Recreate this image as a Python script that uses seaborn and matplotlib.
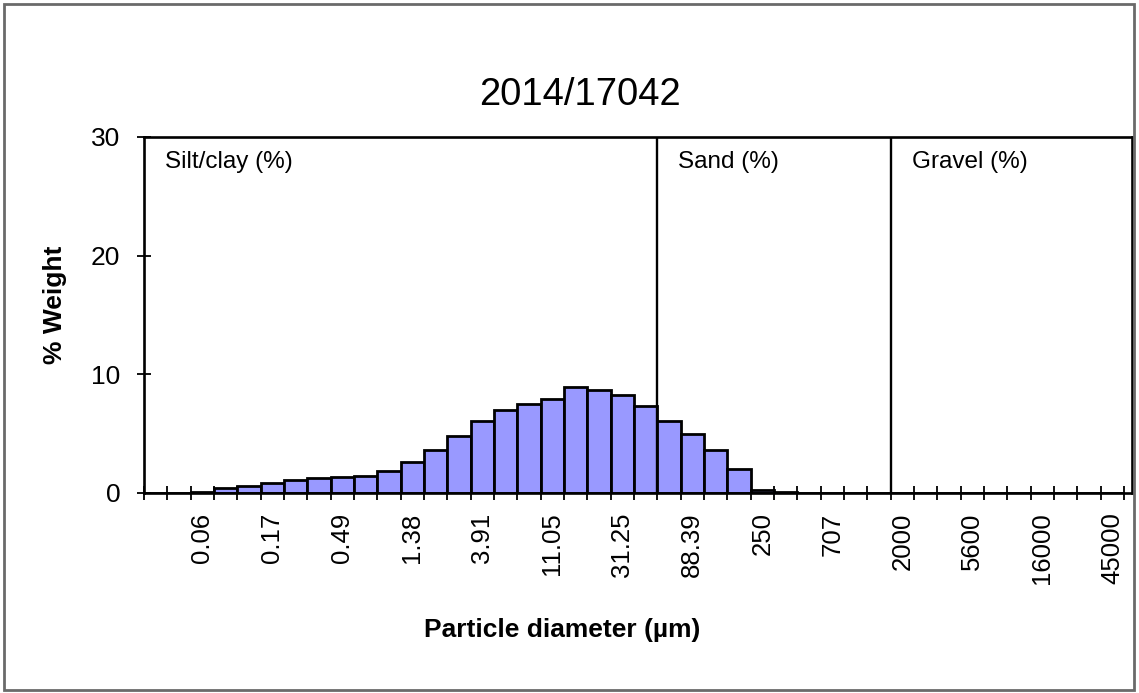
import matplotlib
matplotlib.use("Agg")
import matplotlib.pyplot as plt
from matplotlib.patches import Rectangle
import seaborn as sns
import pandas as pd
import numpy as np

# Bin labels (particle diameter, µm) - sqrt(2) classes
sizes = ["0.03", "0.04", "0.06", "0.09", "0.12", "0.17", "0.24", "0.35", "0.49", "0.69",
         "0.98", "1.38", "1.95", "2.76", "3.91", "5.52", "7.81", "11.05", "15.63", "22.1",
         "31.25", "44.19", "62.5", "88.39", "125", "176.78", "250", "353.55", "500", "707",
         "1000", "1414", "2000", "2800", "4000", "5600", "8000", "11300", "16000", "22600",
         "32000", "45000"]
# % weight per bin
weights = [0.0, 0.0, 0.12, 0.4, 0.55, 0.84, 1.06, 1.26, 1.31, 1.4,
           1.82, 2.58, 3.6, 4.8, 6.1, 6.96, 7.52, 7.92, 8.93, 8.64,
           8.26, 7.36, 6.1, 4.96, 3.65, 2.05, 0.22, 0.06, 0.04, 0.03,
           0.03, 0.03, 0.0, 0.0, 0.0, 0.0, 0.0, 0.0, 0.0, 0.0,
           0.0, 0.0]
shown_labels = ["0.06", "0.17", "0.49", "1.38", "3.91", "11.05", "31.25", "88.39",
                "250", "707", "2000", "5600", "16000", "45000"]
class_names = ["Silt/clay (%)", "Sand (%)", "Gravel (%)"]
class_bounds = ["62.5", "2000"]  # first bin of sand, first bin of gravel
title = "2014/17042"

sns.set_theme(style="white")
plt.rcParams["font.family"] = ["Liberation Sans", "DejaVu Sans"]
plt.rcParams["text.color"] = "black"
plt.rcParams["axes.labelcolor"] = "black"
plt.rcParams["xtick.color"] = "black"
plt.rcParams["ytick.color"] = "black"

fig = plt.figure(figsize=(11.39, 6.93), dpi=100)
ax = fig.add_axes([144 / 1139, 1 - 493 / 693, (1132 - 144) / 1139, (493 - 137) / 693])

df = pd.DataFrame({"size": sizes, "weight": weights})
sns.barplot(data=df, x="size", y="weight", order=sizes, color="#9999FF",
            saturation=1, width=1.0, edgecolor="black", linewidth=2.0, ax=ax)

ax.set_xlim(-0.5, len(sizes) - 0.5 + 8 / 23.33)
ax.set_ylim(0, 30)

# class boundaries
for b in class_bounds:
    xb = sizes.index(b) - 0.5
    ax.axvline(xb, color="black", lw=1.7)
starts = [-0.5] + [sizes.index(b) - 0.5 for b in class_bounds]
for name, s in zip(class_names, starts):
    ax.text(s + 0.9, 27.9, name, fontsize=17.5, va="center", ha="left", color="black")

# ticks
pos = [sizes.index(l) for l in shown_labels]
ax.set_xticks(pos)
ax.set_xticklabels(shown_labels, rotation=90, fontsize=18.5)
ax.set_xticks(np.arange(-0.5, len(sizes)), minor=True)
ax.tick_params(axis="x", which="major", length=0, pad=14, bottom=True)
ax.tick_params(axis="x", which="minor", length=10, width=1.3, direction="inout",
               bottom=True, color="black")
ax.set_yticks([0, 10, 20, 30])
ax.tick_params(axis="y", which="major", length=10, width=1.3, direction="inout",
               left=True, labelsize=19, pad=12, color="black")

for sp in ax.spines.values():
    sp.set_visible(True)
    sp.set_color("black")
    sp.set_linewidth(1.9)

ax.set_xlabel("Particle diameter (µm)", fontsize=19, fontweight="bold")
ax.xaxis.set_label_coords((562 - 144) / 988, (493 - 630) / 356)
ax.xaxis.label.set_va("center")
ax.set_ylabel("% Weight", fontsize=19, fontweight="bold")
ax.yaxis.set_label_coords((55 - 144) / 988, (493 - 305) / 356)
ax.yaxis.label.set_va("center")

fig.text(580 / 1139, 1 - 95 / 693, title, fontsize=27.5, ha="center", va="center")

# outer chart border
fig.patches.append(Rectangle((4 / 1139, 3 / 693), 1130 / 1139, 686 / 693,
                             transform=fig.transFigure, fill=False,
                             edgecolor="#6a6a6a", lw=2))

fig.savefig("out.png", dpi=100)
